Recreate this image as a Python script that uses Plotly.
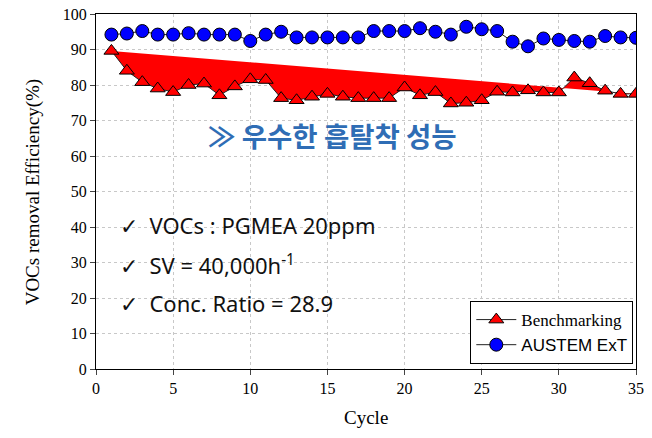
import plotly.graph_objects as go

# Cycle numbers and efficiencies
cycles = list(range(1, 36))
benchmarking = [89.6, 84.0, 80.8, 79.0, 78.0, 80.0, 80.4, 77.1, 79.6, 81.6,
                81.4, 76.3, 75.7, 76.7, 77.5, 76.7, 76.3, 76.3, 76.3, 79.3,
                77.1, 78.0, 74.8, 75.0, 75.7, 78.1, 77.9, 78.5, 77.9, 77.9,
                82.1, 80.5, 78.4, 77.5, 77.5]
austem = [94.2, 94.5, 95.2, 94.2, 94.2, 94.6, 94.2, 94.2, 94.2, 92.4,
          94.2, 95.0, 93.4, 93.4, 93.4, 93.4, 93.4, 95.2, 95.2, 95.2,
          96.0, 95.0, 94.2, 96.4, 95.7, 95.2, 92.2, 90.9, 93.1, 92.7,
          92.4, 92.2, 93.8, 93.4, 93.3]

x_ticks = [0, 5, 10, 15, 20, 25, 30, 35]
y_ticks = [0, 10, 20, 30, 40, 50, 60, 70, 80, 90, 100]

conditions = ["VOCs : PGMEA 20ppm", "SV = 40,000h<sup>-1</sup>", "Conc. Ratio = 28.9"]
highlight = "≫ 우수한 흡탈착 성능"

fig = go.Figure()

# red area between the benchmarking curve and the chord from first to last point
fig.add_trace(go.Scatter(
    x=cycles, y=benchmarking, mode='lines', fill='toself',
    fillcolor='#FF0000', line=dict(width=0), showlegend=False, hoverinfo='skip'
))

fig.add_trace(go.Scatter(
    x=cycles, y=benchmarking, mode='lines+markers', name='Benchmarking',
    line=dict(color='#222222', width=1),
    marker=dict(symbol='triangle-up', size=13, color='#FF0000',
                line=dict(color='#000000', width=1))
))

fig.add_trace(go.Scatter(
    x=cycles, y=austem, mode='lines+markers',
    name='<span style="font-family:Liberation Sans, Arial">AUSTEM ExT</span>',
    line=dict(color='#222222', width=1),
    marker=dict(symbol='circle', size=13, color='#0000FF',
                line=dict(color='#000000', width=1))
))

# Korean highlight text
fig.add_annotation(
    x=15.3, y=65.8, xref='x', yref='y', text='<b>' + highlight + '</b>',
    showarrow=False, font=dict(family='Noto Sans CJK KR', size=27.5, color='#2F6DB5')
)

# condition notes with check marks
for txt, yv in zip(conditions, [40.5, 29.5, 18.7]):
    fig.add_annotation(
        x=1.45, y=yv, xref='x', yref='y', xanchor='left',
        text='✓  ' + txt, showarrow=False,
        font=dict(family='Noto Sans', size=22, color='#111111')
    )

# axis titles placed by hand
fig.add_annotation(
    x=0.5, y=-0.138, xref='paper', yref='paper', yanchor='middle',
    text='Cycle', showarrow=False,
    font=dict(family='Liberation Serif, Times New Roman', size=19)
)
fig.add_annotation(
    x=-0.117, y=0.5, xref='paper', yref='paper', xanchor='center', yanchor='middle',
    text='VOCs removal Efficiency(%)', textangle=-90, showarrow=False,
    font=dict(family='Liberation Serif, Times New Roman', size=19)
)

# the page body adds an 8px margin; the figure is sized so the page does not overflow
fig.update_layout(
    width=636, height=422,
    paper_bgcolor='white', plot_bgcolor='white',
    margin=dict(l=88, r=8, t=6, b=61),
    font=dict(family='Liberation Serif, Times New Roman', color='#000000'),
    legend=dict(
        x=0.995, y=0.014, xanchor='right', yanchor='bottom',
        bgcolor='white', bordercolor='#000000', borderwidth=1,
        font=dict(family='Liberation Serif, Times New Roman', size=17),
        tracegroupgap=0, itemwidth=40
    ),
    xaxis=dict(
        range=[0, 35], tickvals=x_ticks, ticks='outside', ticklen=5,
        tickfont=dict(size=16), showline=True, linecolor='#000000', mirror=True,
        showgrid=True, gridcolor='#C8C8C8', griddash='dot', zeroline=False,
        automargin=False, ticklabeloverflow='allow'
    ),
    yaxis=dict(
        range=[0, 100], tickvals=y_ticks, ticks='outside', ticklen=5,
        tickfont=dict(size=16), showline=True, linecolor='#000000', mirror=True,
        showgrid=True, gridcolor='#C8C8C8', griddash='dot', zeroline=False,
        automargin=False, ticklabeloverflow='allow'
    )
)

fig.write_html("out.html")
